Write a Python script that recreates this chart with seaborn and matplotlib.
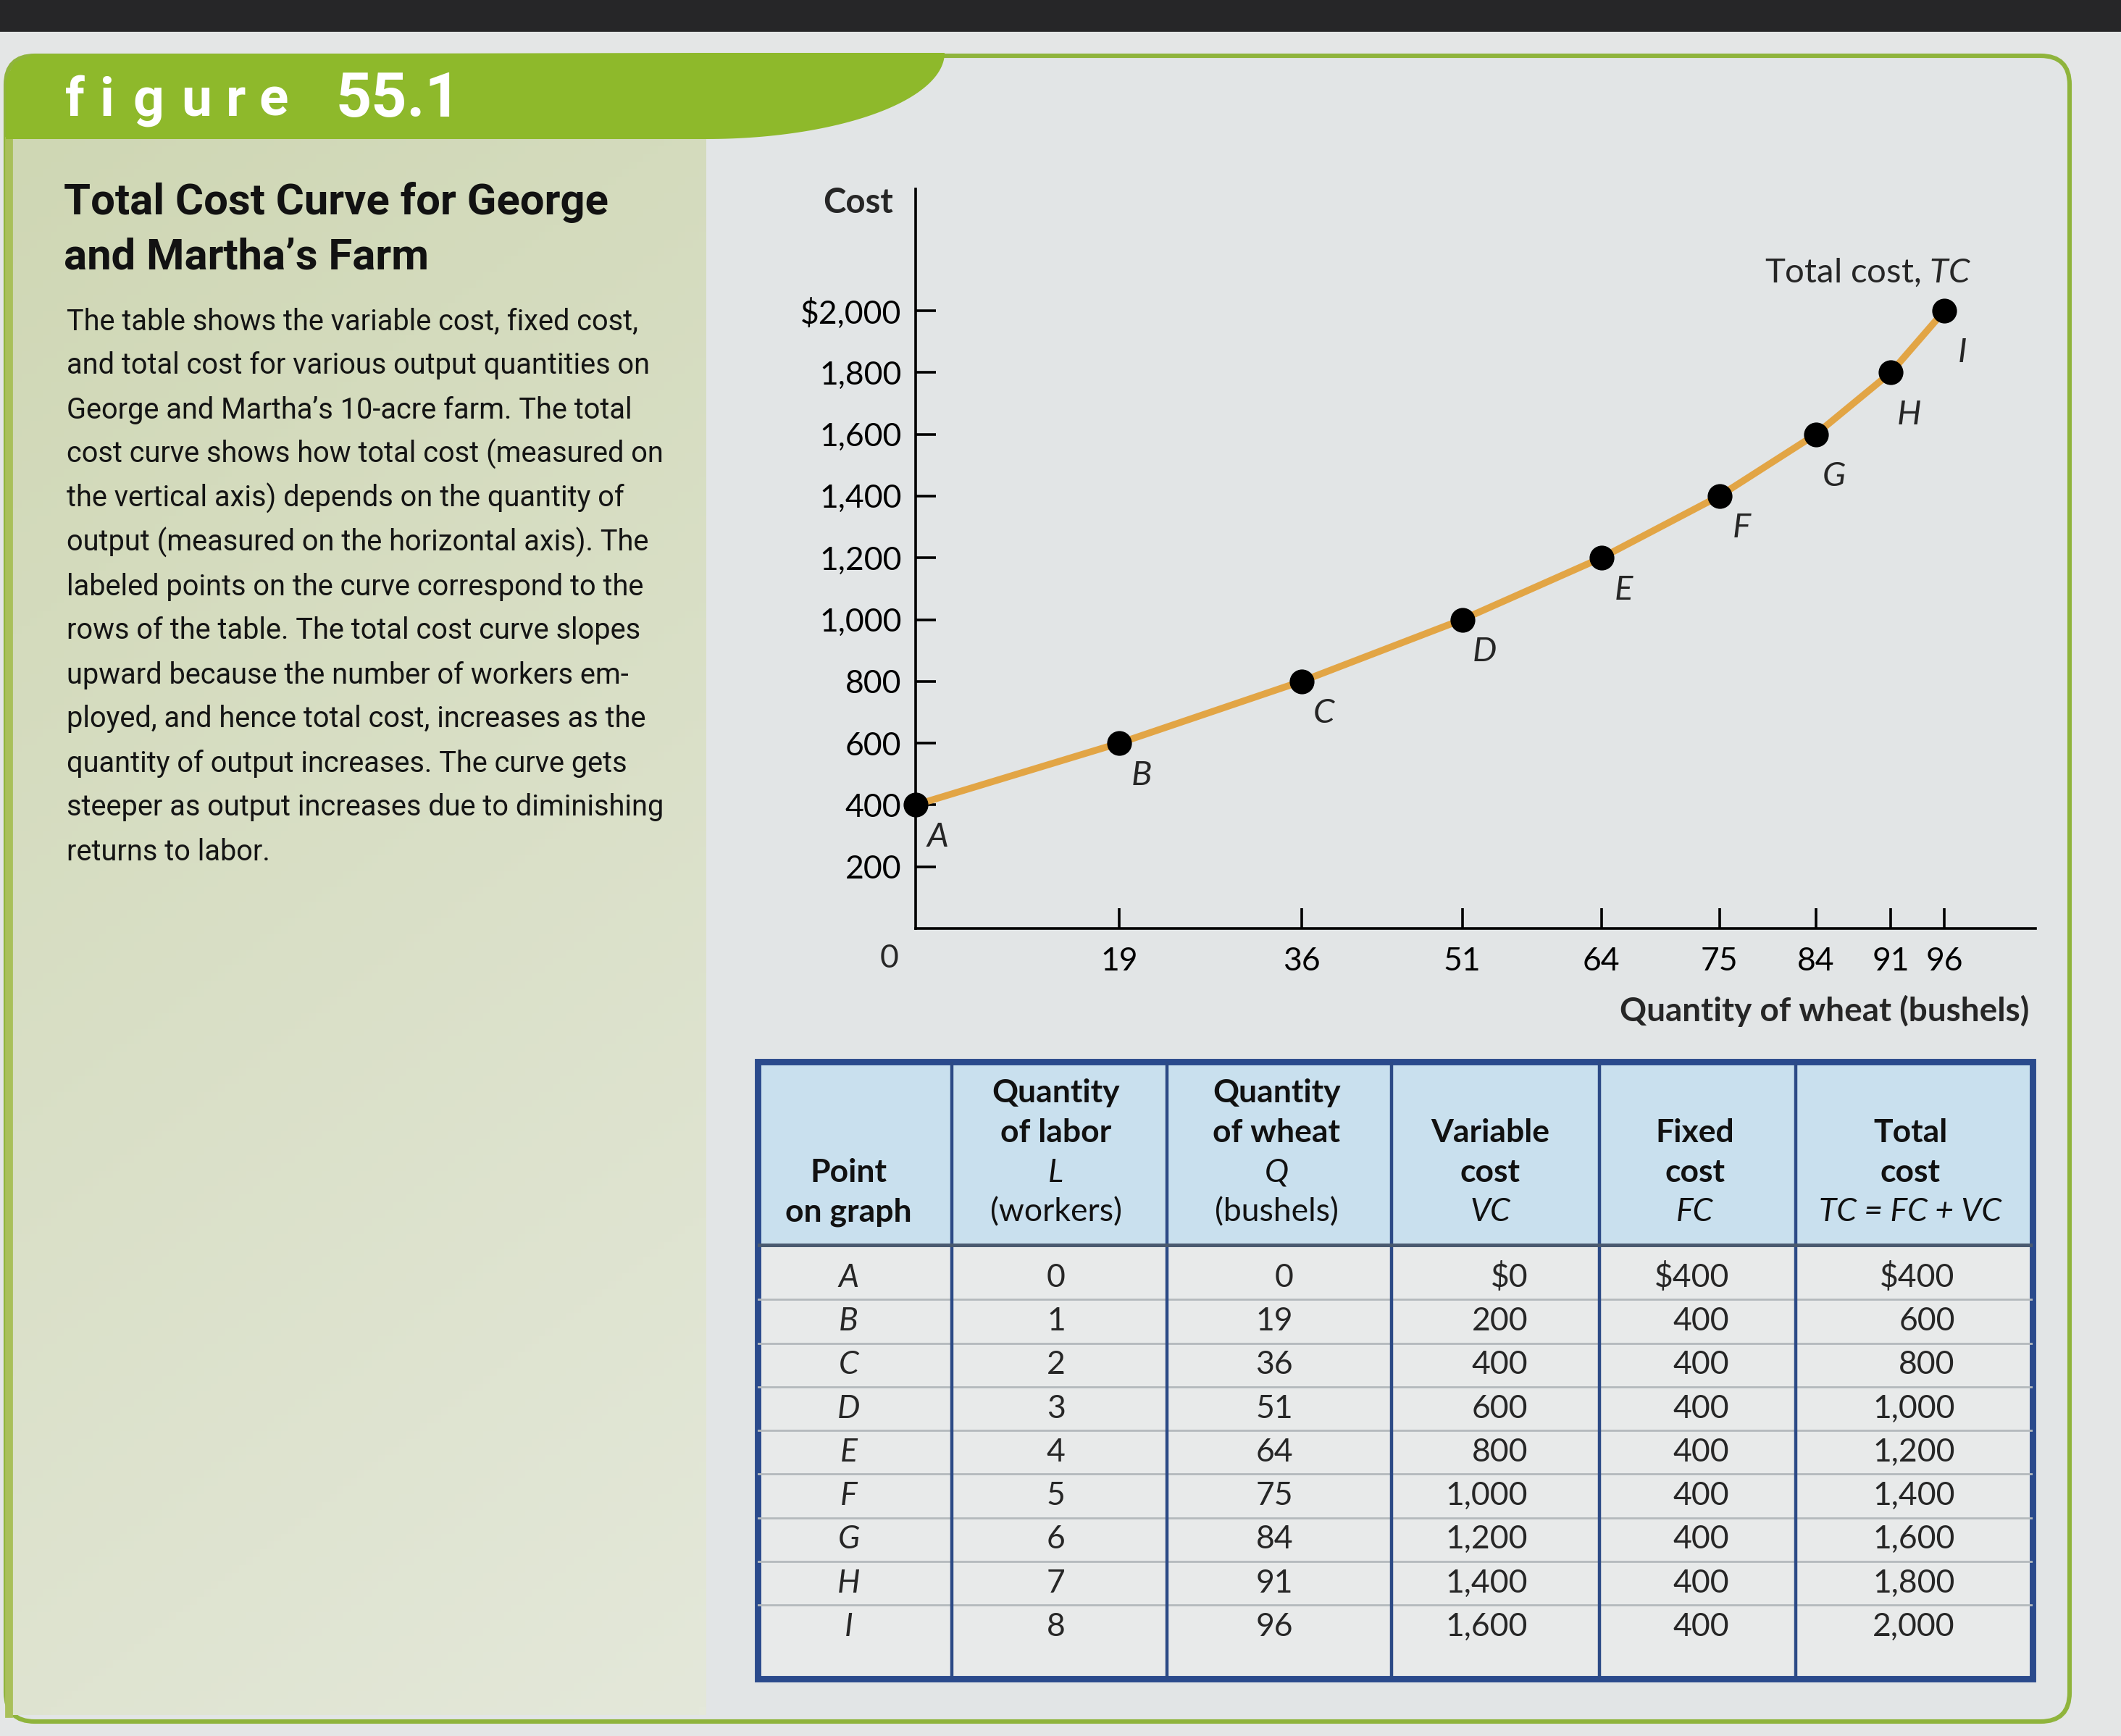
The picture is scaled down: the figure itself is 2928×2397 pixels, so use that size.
import numpy as np
import pandas as pd
import seaborn as sns
import matplotlib.pyplot as plt
from matplotlib.patches import Rectangle, FancyBboxPatch, Polygon

# data from the table
points = ["A", "B", "C", "D", "E", "F", "G", "H", "I"]
labor = [0, 1, 2, 3, 4, 5, 6, 7, 8]
wheat = [0, 19, 36, 51, 64, 75, 84, 91, 96]
variable_cost = [0, 200, 400, 600, 800, 1000, 1200, 1400, 1600]
fixed_cost = [400, 400, 400, 400, 400, 400, 400, 400, 400]
total_cost = [400, 600, 800, 1000, 1200, 1400, 1600, 1800, 2000]

y_ticks = [200, 400, 600, 800, 1000, 1200, 1400, 1600, 1800, 2000]
y_tick_labels = ["200", "400", "600", "800", "1,000", "1,200", "1,400", "1,600", "1,800", "$2,000"]

title_lines = ["Total Cost Curve for George", "and Martha\u2019s Farm"]
body_lines = [
    "The table shows the variable cost, fixed cost,",
    "and total cost for various output quantities on",
    "George and Martha\u2019s 10-acre farm. The total",
    "cost curve shows how total cost (measured on",
    "the vertical axis) depends on the quantity of",
    "output (measured on the horizontal axis). The",
    "labeled points on the curve correspond to the",
    "rows of the table. The total cost curve slopes",
    "upward because the number of workers em-",
    "ployed, and hence total cost, increases as the",
    "quantity of output increases. The curve gets",
    "steeper as output increases due to diminishing",
    "returns to labor.",
]

df = pd.DataFrame({"point": points, "Q": wheat, "TC": total_cost})

sns.set_theme(style="white")
CHART = ["Lato", "DejaVu Sans"]
BODY = ["Roboto", "DejaVu Sans"]
plt.rcParams["font.family"] = CHART
plt.rcParams["mathtext.fontset"] = "custom"
plt.rcParams["mathtext.rm"] = "Lato"
plt.rcParams["mathtext.it"] = "Lato:italic"
plt.rcParams["mathtext.bf"] = "Lato:bold"

W, H = 2928, 2397
fig = plt.figure(figsize=(W / 200, H / 200), dpi=200)
fig.patch.set_facecolor("#e4e6e6")

# background in pixel coords
bg = fig.add_axes([0, 0, 1, 1], zorder=0)
bg.set_xlim(0, W)
bg.set_ylim(H, 0)
bg.axis("off")

bg.add_patch(Rectangle((0, 0), W, 42, color="#262628"))
bg.add_patch(FancyBboxPatch((8, 77), 2849, 2300, boxstyle="round,pad=0,rounding_size=40",
                            facecolor="#e2e5e6", edgecolor="#8fb43c", lw=2.2))

# left panel gradient
gy = np.linspace(0, 1, 200)[:, None]
gx = np.linspace(0, 1, 100)[None, :]
c_top = np.array([207, 215, 180]) / 255
c_bot = np.array([228, 232, 218]) / 255
t = np.clip(0.75 * gy + 0.25 * gx, 0, 1)[..., None]
grad = c_top * (1 - t) + c_bot * t
bg.imshow(grad, extent=[12, 975, 2368, 190], aspect="auto", zorder=1)
bg.add_patch(Rectangle((8, 190), 8, 2180, color="#a9c05a", zorder=2))

# green header band with curved end
tt = np.linspace(0, np.pi / 2, 60)
arc = np.column_stack([975 + 329 * np.cos(tt), 73 + 119 * np.sin(tt)])
hdr = np.vstack([[[8, 192], [8, 110], [20, 86], [45, 75]], [[975, 73]], arc, [[8, 192]]])
bg.add_patch(Polygon(hdr, closed=True, facecolor="#8eb92b", edgecolor="none", zorder=3))

for ch, lx in zip("figure", [90, 138, 183, 250, 312, 357]):
    bg.text(lx, 140, ch, color="white", fontsize=27, fontweight="bold",
            va="center", ha="left", zorder=4, family=BODY)
bg.text(463, 138, "55.1", color="white", fontsize=31, fontweight="bold",
        va="center", ha="left", zorder=4, family=BODY)

for i, line in enumerate(title_lines):
    bg.text(88, 280 + 75 * i, line, fontsize=21.5, fontweight="bold", color="#121212",
            va="center", ha="left", zorder=4, family=BODY)
for i, line in enumerate(body_lines):
    bg.text(92, 444 + 61 * i, line, fontsize=14.3, color="#141414",
            va="center", ha="left", zorder=4, family=BODY)

# chart
ax = fig.add_axes([1264 / W, 1 - 1282 / H, (2810 - 1264) / W, (1282 - 261) / H], zorder=2)
ax.set_facecolor("none")
sns.lineplot(data=df, x="Q", y="TC", ax=ax, color="#e2a545", lw=3.4, zorder=3)
sns.scatterplot(data=df, x="Q", y="TC", ax=ax, color="black", s=130, zorder=4,
                edgecolor="black", clip_on=False)
ax.set_xlim(0, 104.5)
ax.set_ylim(0, 2394)
ax.set_xticks(wheat[1:])
ax.set_xticklabels([str(q) for q in wheat[1:]])
ax.set_yticks(y_ticks)
ax.set_yticklabels(y_tick_labels)
ax.tick_params(axis="both", direction="in", length=10, width=1.3, colors="black",
               labelsize=16, pad=7, bottom=True, left=True)
ax.tick_params(axis="x", pad=9)
for s in ["top", "right"]:
    ax.spines[s].set_visible(False)
for s in ["left", "bottom"]:
    ax.spines[s].set_color("black")
    ax.spines[s].set_linewidth(1.3)
ax.set_xlabel("")
ax.set_ylabel("")

for k, (p, q, c) in enumerate(zip(points, wheat, total_cost)):
    # the steep end of the curve has its labels set a bit lower
    off = (11, -16) if k < 6 else (9, -21)
    ax.annotate(p, (q, c), xytext=off, textcoords="offset points",
                fontsize=17, style="italic", ha="center", va="center", annotation_clip=False)

ax.annotate("0", (0, 0), xytext=(-13, -15), textcoords="offset points",
            fontsize=16, ha="center", va="center", annotation_clip=False)
ax.text(-5.4, 2350, "Cost", fontsize=17, fontweight="bold", ha="center", va="center", clip_on=False)
ax.text(103.9, -268, "Quantity of wheat (bushels)", fontsize=16.5, fontweight="bold",
        ha="right", va="center", clip_on=False)
ax.text(98.5, 2123, r"Total cost, $\mathit{TC}$", fontsize=17, ha="right", va="center")

# table
axt = fig.add_axes([1046 / W, 1 - 2318 / H, (2806 - 1046) / W, (2318 - 1466) / H], zorder=2)
axt.set_xlim(0, 1)
axt.set_ylim(9.94, -4.2)
axt.axis("off")

edges = [0, 0.152, 0.321, 0.497, 0.660, 0.814, 1.0]
axt.add_patch(Rectangle((0, -4.2), 1, 4.2, facecolor="#c9e0ee", edgecolor="none"))
axt.add_patch(Rectangle((0, 0), 1, 9.94, facecolor="#e8eaea", edgecolor="none"))
for i in range(8):
    axt.plot([0, 1], [i + 1.25, i + 1.25], color="#b4b9bc", lw=1.0)
for e in edges[1:-1]:
    axt.plot([e, e], [-4.2, 9.94], color="#2c4a86", lw=1.6)
axt.plot([0, 1], [0, 0], color="#4a5a70", lw=1.8)
axt.add_patch(Rectangle((0, -4.2), 1, 14.14, facecolor="none", edgecolor="#2a4a8c", lw=3.2, clip_on=False))

headers = [
    [("on graph", "bold"), ("Point", "bold")],
    [("(workers)", "normal"), ("L", "italic"), ("of labor", "bold"), ("Quantity", "bold")],
    [("(bushels)", "normal"), ("Q", "italic"), ("of wheat", "bold"), ("Quantity", "bold")],
    [("VC", "italic"), ("cost", "bold"), ("Variable", "bold")],
    [("FC", "italic"), ("cost", "bold"), ("Fixed", "bold")],
    [("TC = FC + VC", "italic"), ("cost", "bold"), ("Total", "bold")],
]
hdr_x = [0.0713, 0.234, 0.407, 0.5745, 0.735, 0.904]
for cx, lines in zip(hdr_x, headers):
    for k, (txt, sty) in enumerate(lines):
        kw = {"style": "italic"} if sty == "italic" else {"fontweight": sty}
        axt.text(cx, -0.75 - 0.91 * k, txt, fontsize=16, ha="center", va="center",
                 color="#111111", **kw)


def money(v, first):
    return ("$" if first else "") + f"{v:,}"


for i in range(len(points)):
    y = i + 0.75
    axt.text(0.0713, y, points[i], fontsize=16, style="italic", ha="center", va="center")
    axt.text(0.234, y, str(labor[i]), fontsize=16, ha="center", va="center")
    axt.text(0.420, y, str(wheat[i]), fontsize=16, ha="right", va="center")
    axt.text(0.604, y, money(variable_cost[i], i == 0), fontsize=16, ha="right", va="center")
    axt.text(0.762, y, money(fixed_cost[i], i == 0), fontsize=16, ha="right", va="center")
    axt.text(0.939, y, money(total_cost[i], i == 0), fontsize=16, ha="right", va="center")

fig.savefig("out.png", dpi=200)
